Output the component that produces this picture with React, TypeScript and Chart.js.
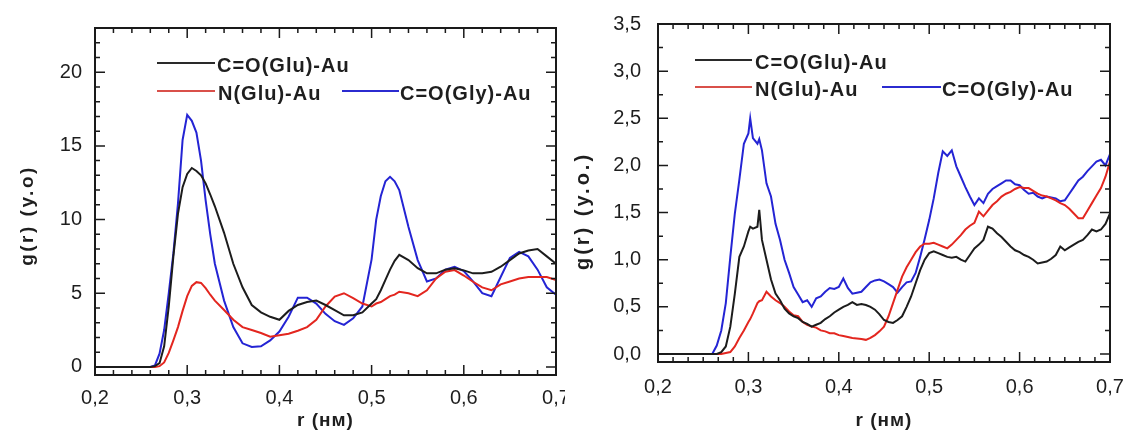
import React, { useEffect, useRef } from "react";
import { Chart, registerables } from "chart.js";

Chart.register(...registerables);

// ---------- shared labels ----------
const seriesNames = ["C=O(Glu)-Au", "N(Glu)-Au", "C=O(Gly)-Au"];
const seriesColors = ["#1c1c1c", "#e3261f", "#2424d4"];
const legendColors = ["#2a2a2a", "#d9504a", "#2b2bd0"];
const xTicks = [0.2, 0.3, 0.4, 0.5, 0.6, 0.7];
const xTickLabels = ["0,2", "0,3", "0,4", "0,5", "0,6", "0,7"];
const xTitle = "r (нм)";

// ---------- left panel ----------
const leftYTicks = [0, 5, 10, 15, 20];
const leftYTickLabels = ["0", "5", "10", "15", "20"];
const leftYTitle = "g(r) (y.o)";
const rLeft = [0.20, 0.25, 0.26, 0.265, 0.27, 0.275, 0.28, 0.285, 0.29, 0.295, 0.30, 0.305, 0.31, 0.315, 0.32, 0.325, 0.33, 0.34, 0.35, 0.36, 0.37, 0.38, 0.39, 0.40, 0.41, 0.42, 0.43, 0.44, 0.45, 0.46, 0.47, 0.48, 0.49, 0.50, 0.505, 0.51, 0.515, 0.52, 0.525, 0.53, 0.54, 0.55, 0.56, 0.57, 0.58, 0.59, 0.60, 0.61, 0.62, 0.63, 0.64, 0.65, 0.66, 0.67, 0.68, 0.69, 0.70];
const leftCOGlu = [0, 0, 0, 0.05, 0.25, 1.4, 4.1, 7.5, 10.4, 12.2, 13.1, 13.5, 13.3, 13.0, 12.45, 11.7, 10.9, 9.1, 7.0, 5.4, 4.2, 3.7, 3.4, 3.2, 3.8, 4.2, 4.4, 4.5, 4.2, 3.86, 3.5, 3.5, 3.7, 4.3, 4.6, 5.2, 5.9, 6.6, 7.2, 7.6, 7.25, 6.7, 6.35, 6.35, 6.6, 6.7, 6.55, 6.35, 6.35, 6.45, 6.8, 7.25, 7.7, 7.9, 8.0, 7.5, 7.0];
const leftNGlu = [0, 0, 0, 0, 0.05, 0.3, 0.95, 1.8, 2.7, 3.8, 4.8, 5.5, 5.75, 5.7, 5.35, 4.9, 4.5, 3.86, 3.2, 2.7, 2.5, 2.3, 2.05, 2.15, 2.25, 2.45, 2.7, 3.2, 4.1, 4.77, 5.0, 4.66, 4.3, 4.1, 4.3, 4.4, 4.6, 4.8, 4.9, 5.1, 5.0, 4.8, 5.2, 6.0, 6.46, 6.57, 6.2, 5.78, 5.4, 5.2, 5.6, 5.8, 6.0, 6.1, 6.1, 6.1, 5.9];
const leftCOGly = [0, 0, 0, 0.1, 0.9, 2.5, 5.0, 7.7, 11.1, 15.4, 17.1, 16.7, 15.9, 14.0, 11.3, 9.0, 7.0, 4.5, 2.7, 1.6, 1.35, 1.4, 1.8, 2.4, 3.4, 4.7, 4.7, 4.3, 3.6, 3.1, 2.85, 3.3, 4.1, 7.3, 10.0, 11.6, 12.6, 12.9, 12.6, 12.0, 9.5, 7.25, 5.8, 6.0, 6.6, 6.8, 6.5, 5.8, 5.0, 4.8, 6.1, 7.4, 7.8, 7.5, 6.6, 5.4, 4.9];

// ---------- right panel ----------
const rightYTicks = [0, 0.5, 1, 1.5, 2, 2.5, 3, 3.5];
const rightYTickLabels = ["0,0", "0,5", "1,0", "1,5", "2,0", "2,5", "3,0", "3,5"];
const rightYTitle = "g(r) (y.o.)";
const rRight = [0.20, 0.25, 0.26, 0.265, 0.27, 0.275, 0.28, 0.285, 0.29, 0.295, 0.30, 0.302, 0.305, 0.31, 0.312, 0.315, 0.32, 0.325, 0.33, 0.335, 0.34, 0.345, 0.35, 0.355, 0.36, 0.365, 0.37, 0.375, 0.38, 0.385, 0.39, 0.395, 0.40, 0.405, 0.41, 0.415, 0.42, 0.425, 0.43, 0.435, 0.44, 0.445, 0.45, 0.455, 0.46, 0.465, 0.47, 0.475, 0.48, 0.485, 0.49, 0.495, 0.50, 0.505, 0.51, 0.515, 0.52, 0.525, 0.53, 0.535, 0.54, 0.545, 0.55, 0.555, 0.56, 0.565, 0.57, 0.575, 0.58, 0.585, 0.59, 0.595, 0.60, 0.605, 0.61, 0.615, 0.62, 0.625, 0.63, 0.635, 0.64, 0.645, 0.65, 0.655, 0.66, 0.665, 0.67, 0.675, 0.68, 0.685, 0.69, 0.695, 0.70];
const rightCOGlu = [0, 0, 0, 0, 0.02, 0.08, 0.29, 0.64, 1.03, 1.14, 1.30, 1.35, 1.33, 1.35, 1.53, 1.21, 1.00, 0.79, 0.64, 0.57, 0.48, 0.43, 0.40, 0.38, 0.34, 0.32, 0.29, 0.31, 0.33, 0.37, 0.40, 0.44, 0.47, 0.50, 0.52, 0.55, 0.52, 0.53, 0.52, 0.50, 0.47, 0.42, 0.36, 0.34, 0.33, 0.36, 0.40, 0.50, 0.61, 0.75, 0.89, 1.00, 1.07, 1.09, 1.07, 1.05, 1.03, 1.02, 1.03, 1.00, 0.98, 1.05, 1.12, 1.16, 1.21, 1.35, 1.33, 1.28, 1.24, 1.19, 1.14, 1.10, 1.08, 1.05, 1.03, 1.00, 0.96, 0.97, 0.98, 1.01, 1.05, 1.14, 1.10, 1.13, 1.16, 1.19, 1.21, 1.26, 1.32, 1.30, 1.32, 1.38, 1.49];
const rightNGlu = [0, 0, 0, 0, 0, 0.01, 0.02, 0.08, 0.17, 0.25, 0.34, 0.37, 0.43, 0.54, 0.56, 0.57, 0.66, 0.61, 0.57, 0.54, 0.50, 0.45, 0.41, 0.40, 0.34, 0.31, 0.29, 0.28, 0.25, 0.24, 0.22, 0.22, 0.20, 0.19, 0.18, 0.17, 0.165, 0.16, 0.15, 0.17, 0.20, 0.24, 0.29, 0.40, 0.54, 0.68, 0.82, 0.92, 1.00, 1.08, 1.14, 1.17, 1.17, 1.18, 1.16, 1.14, 1.12, 1.16, 1.21, 1.26, 1.32, 1.36, 1.39, 1.51, 1.46, 1.52, 1.58, 1.62, 1.67, 1.70, 1.72, 1.75, 1.77, 1.76, 1.76, 1.73, 1.70, 1.68, 1.67, 1.65, 1.63, 1.60, 1.58, 1.54, 1.49, 1.44, 1.44, 1.52, 1.60, 1.68, 1.76, 1.88, 2.04];
const rightCOGly = [0, 0, 0, 0.09, 0.25, 0.54, 1.03, 1.49, 1.85, 2.23, 2.34, 2.50, 2.29, 2.23, 2.28, 2.16, 1.81, 1.67, 1.38, 1.21, 1.00, 0.86, 0.71, 0.63, 0.55, 0.57, 0.50, 0.59, 0.61, 0.66, 0.70, 0.69, 0.71, 0.80, 0.70, 0.64, 0.65, 0.66, 0.71, 0.76, 0.78, 0.79, 0.77, 0.74, 0.71, 0.65, 0.71, 0.76, 0.77, 0.86, 1.03, 1.22, 1.42, 1.65, 1.92, 2.15, 2.10, 2.16, 1.99, 1.88, 1.77, 1.67, 1.58, 1.65, 1.60, 1.70, 1.75, 1.78, 1.81, 1.84, 1.84, 1.80, 1.79, 1.74, 1.70, 1.71, 1.67, 1.65, 1.67, 1.66, 1.65, 1.62, 1.63, 1.70, 1.77, 1.84, 1.88, 1.94, 1.99, 2.04, 2.06, 2.00, 2.12];

const FONT = "'Liberation Sans', Arial, Helvetica, sans-serif";
const TEXT = "#1e1e1e";

type LegendItem = { i: number; x1: number; x2: number; y: number; tx: number; ty: number };
type PanelSpec = {
  left: number;
  width: number;
  r: number[];
  series: number[][];
  yTicks: number[];
  yTickLabels: string[];
  yTitle: string;
  yMin: number;
  yMax: number;
  padTop: number;
  padRight: number;
  yAxisW: number;
  xAxisH: number;
  yTickPad: number;
  xTickPad: number;
  yTitleSize: number;
  yTitlePad: number;
  yTitleShift: number;
  yTitleSpacing: number;
  xMinorStep: number;
  yMinorStep: number;
  legend: LegendItem[];
};

const leftPanel: PanelSpec = {
  left: 0, width: 565, r: rLeft, series: [leftCOGlu, leftNGlu, leftCOGly],
  yTicks: leftYTicks, yTickLabels: leftYTickLabels, yTitle: leftYTitle,
  yMin: -0.55, yMax: 23, padTop: 28, padRight: 9, yAxisW: 95, xAxisH: 55,
  yTickPad: 13, xTickPad: 11, yTitleSize: 19, yTitlePad: 16.6, yTitleShift: 14, yTitleSpacing: 2.5,
  xMinorStep: 0.02, yMinorStep: 1,
  legend: [
    { i: 0, x1: 157, x2: 215, y: 63, tx: 217, ty: 66 },
    { i: 1, x1: 157, x2: 215, y: 91, tx: 218, ty: 94 },
    { i: 2, x1: 342, x2: 399, y: 91, tx: 400, ty: 94 },
  ],
};

const rightPanel: PanelSpec = {
  left: 565, width: 560, r: rRight, series: [rightCOGlu, rightNGlu, rightCOGly],
  yTicks: rightYTicks, yTickLabels: rightYTickLabels, yTitle: rightYTitle,
  yMin: -0.085, yMax: 3.5, padTop: 24, padRight: 15, yAxisW: 93, xAxisH: 68,
  yTickPad: 17, xTickPad: 13, yTitleSize: 20, yTitlePad: 6, yTitleShift: 18, yTitleSpacing: 3,
  xMinorStep: 0.1 / 6, yMinorStep: 0.25,
  legend: [
    { i: 0, x1: 130, x2: 187, y: 60, tx: 190, ty: 63 },
    { i: 1, x1: 130, x2: 187, y: 87, tx: 190, ty: 90 },
    { i: 2, x1: 317, x2: 376, y: 87, tx: 377, ty: 90 },
  ],
};

function makeFramePlugin(p: PanelSpec) {
  return {
    id: "frame",
    beforeDraw(chart: any) {
      Object.values(chart.scales).forEach((s: any) => {
        if (s.__patched) return;
        const orig = s.drawTitle.bind(s);
        s.drawTitle = () => {
          const c = s.ctx;
          c.save();
          if (s.axis === "y") {
            c.letterSpacing = p.yTitleSpacing + "px";
            c.translate(0, p.yTitleShift);
          } else {
            c.letterSpacing = "1px";
          }
          orig();
          c.restore();
        };
        s.__patched = true;
      });
    },
    afterDraw(chart: any) {
      const { ctx, chartArea: a } = chart;
      const xs = chart.scales.x;
      const ys = chart.scales.y;
      const majorLen = 10;
      const minorLen = 5;
      ctx.save();
      ctx.strokeStyle = "#1a1a1a";
      ctx.lineWidth = 1.5;
      ctx.beginPath();
      const tickX = (v: number, len: number) => {
        const px = xs.getPixelForValue(v);
        ctx.moveTo(px, a.bottom);
        ctx.lineTo(px, a.bottom - len);
        ctx.moveTo(px, a.top);
        ctx.lineTo(px, a.top + len);
      };
      const tickY = (v: number, len: number) => {
        const py = ys.getPixelForValue(v);
        ctx.moveTo(a.left, py);
        ctx.lineTo(a.left + len, py);
        ctx.moveTo(a.right, py);
        ctx.lineTo(a.right - len, py);
      };
      for (let k = 0; ; k++) {
        const v = xTicks[0] + k * p.xMinorStep;
        if (v > xs.max + 1e-9) break;
        tickX(v, minorLen);
      }
      for (const v of xTicks) tickX(v, majorLen);
      for (let k = 0; ; k++) {
        const v = p.yTicks[0] + k * p.yMinorStep;
        if (v > ys.max + 1e-9) break;
        tickY(v, minorLen);
      }
      for (const v of p.yTicks) tickY(v, majorLen);
      ctx.stroke();
      ctx.lineWidth = 2;
      ctx.strokeRect(a.left, a.top, a.right - a.left, a.bottom - a.top);

      // legend
      ctx.font = `bold 20px ${FONT}`;
      (ctx as any).letterSpacing = "1px";
      ctx.textBaseline = "middle";
      ctx.textAlign = "left";
      for (const it of p.legend) {
        const ds = chart.data.datasets[it.i];
        ctx.strokeStyle = legendColors[it.i];
        ctx.lineWidth = 2;
        ctx.beginPath();
        ctx.moveTo(it.x1, it.y);
        ctx.lineTo(it.x2, it.y);
        ctx.stroke();
        ctx.fillStyle = TEXT;
        ctx.fillText(ds.label, it.tx, it.ty);
      }
      ctx.restore();
    },
  };
}

function buildConfig(p: PanelSpec): any {
  const datasets = p.series.map((s, i) => ({
    label: seriesNames[i],
    data: p.r.map((r, k) => ({ x: r, y: s[k] })),
    borderColor: seriesColors[i],
    backgroundColor: seriesColors[i],
    borderWidth: 2,
    pointRadius: 0,
    tension: 0,
    fill: false,
  }));
  return {
    type: "line",
    data: { datasets },
    options: {
      animation: false,
      responsive: false,
      events: [],
      layout: { autoPadding: false, padding: { left: 0, top: p.padTop, right: p.padRight, bottom: 0 } },
      plugins: { legend: { display: false }, tooltip: { enabled: false } },
      scales: {
        x: {
          type: "linear",
          min: xTicks[0],
          max: xTicks[xTicks.length - 1],
          afterBuildTicks: (s: any) => {
            s.ticks = xTicks.map((v) => ({ value: v }));
          },
          afterFit: (s: any) => {
            s.height = p.xAxisH;
            s.paddingLeft = 0;
            s.paddingRight = 0;
          },
          ticks: {
            autoSkip: false,
            maxRotation: 0,
            padding: p.xTickPad,
            color: TEXT,
            font: { family: FONT, size: 20 },
            callback: (_v: any, i: number) => xTickLabels[i],
          },
          grid: { display: false, drawTicks: false },
          border: { display: false },
          title: {
            display: true,
            text: xTitle,
            color: TEXT,
            font: { family: FONT, size: 19, weight: "bold", lineHeight: 1 },
            padding: { top: 0, bottom: 0 },
          },
        },
        y: {
          type: "linear",
          min: p.yMin,
          max: p.yMax,
          afterBuildTicks: (s: any) => {
            s.ticks = p.yTicks.map((v) => ({ value: v }));
          },
          afterFit: (s: any) => {
            s.width = p.yAxisW;
            s.paddingTop = 0;
            s.paddingBottom = 0;
          },
          ticks: {
            autoSkip: false,
            padding: p.yTickPad,
            color: TEXT,
            font: { family: FONT, size: 20 },
            callback: (_v: any, i: number) => p.yTickLabels[i],
          },
          grid: { display: false, drawTicks: false },
          border: { display: false },
          title: {
            display: true,
            text: p.yTitle,
            color: TEXT,
            font: { family: FONT, size: p.yTitleSize, weight: "bold" },
            padding: { top: p.yTitlePad, bottom: 0 },
          },
        },
      },
    },
    plugins: [makeFramePlugin(p)],
  };
}

function Panel({ p }: { p: PanelSpec }) {
  const ref = useRef<HTMLCanvasElement>(null);
  useEffect(() => {
    if (!ref.current) return;
    const chart = new Chart(ref.current, buildConfig(p));
    return () => chart.destroy();
  }, [p]);
  return (
    <canvas
      ref={ref}
      width={p.width}
      height={430}
      style={{ position: "absolute", left: p.left, top: 0, width: p.width, height: 430 }}
    />
  );
}

export default function App() {
  return (
    <div style={{ position: "fixed", left: 0, top: 0, width: 1125, height: 430, background: "#fff", overflow: "hidden" }}>
      <Panel p={leftPanel} />
      <Panel p={rightPanel} />
    </div>
  );
}
